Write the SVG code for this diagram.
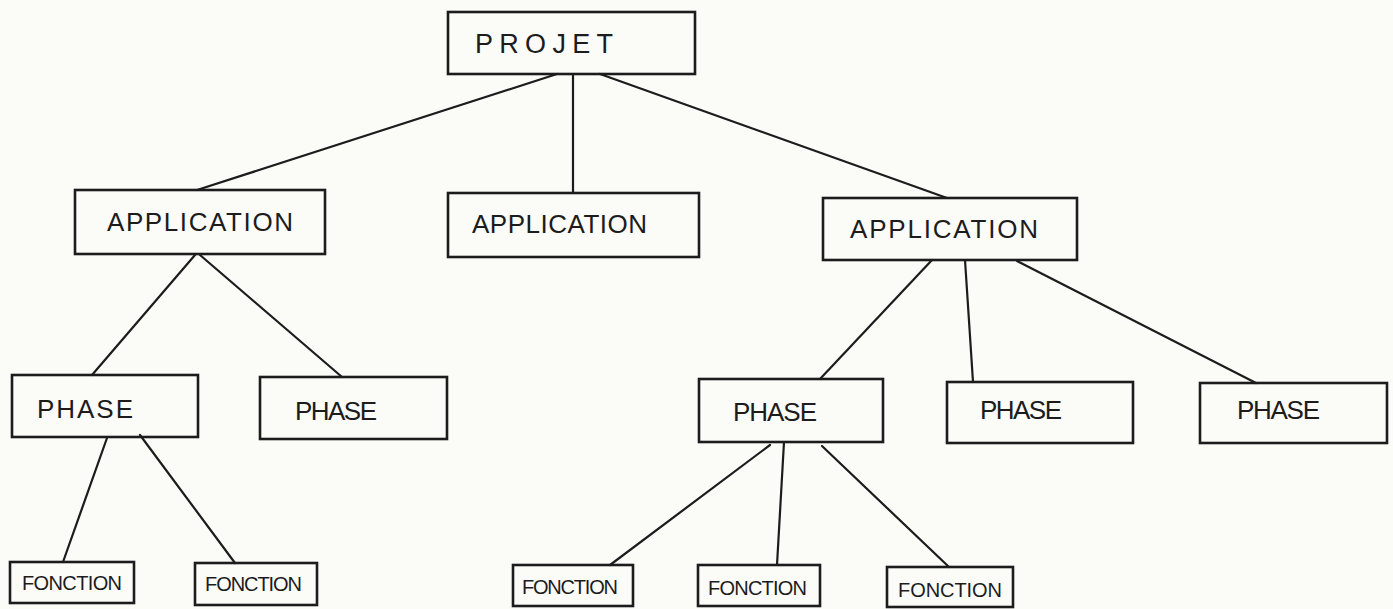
<svg xmlns="http://www.w3.org/2000/svg" width="1393" height="609" viewBox="0 0 1393 609">
<style>
.box{fill:none;stroke:#1c1c1c;stroke-width:2.6}
.lnk{stroke:#1c1c1c;stroke-width:2.2;fill:none;stroke-linecap:round}
.t{font-family:"Liberation Sans",Arial,sans-serif;fill:#1c1c1c}
.big{font-size:27px}
.mid{font-size:26px}
.sml{font-size:20px}
</style>
<rect width="1393" height="609" fill="#fbfbf8"/>
<g id="connectors">
<line class="lnk" x1="557" y1="74" x2="197" y2="190"/>
<line class="lnk" x1="573" y1="74" x2="573" y2="193"/>
<line class="lnk" x1="600" y1="74" x2="947" y2="198"/>
<line class="lnk" x1="195" y1="255" x2="92" y2="375"/>
<line class="lnk" x1="200" y1="255" x2="342" y2="377"/>
<line class="lnk" x1="932" y1="260" x2="820" y2="379"/>
<line class="lnk" x1="965" y1="260" x2="973" y2="382"/>
<line class="lnk" x1="1017" y1="261" x2="1256" y2="383"/>
<line class="lnk" x1="107" y1="438" x2="63" y2="562"/>
<line class="lnk" x1="140" y1="435" x2="235" y2="563"/>
<line class="lnk" x1="770" y1="445" x2="610" y2="565"/>
<line class="lnk" x1="784" y1="442" x2="777" y2="565"/>
<line class="lnk" x1="822" y1="446" x2="949" y2="567"/>
</g>
<g id="projet">
<rect class="box" x="448" y="12" width="247" height="62"/>
<text class="t big" x="475" y="53" textLength="138" lengthAdjust="spacing">PROJET</text>
</g>
<g id="app1">
<rect class="box" x="75" y="190" width="250" height="64"/>
<text class="t mid" x="107" y="231" textLength="186" lengthAdjust="spacing">APPLICATION</text>
</g>
<g id="app2">
<rect class="box" x="448" y="193" width="251" height="64"/>
<text class="t mid" x="472" y="233" textLength="175" lengthAdjust="spacing">APPLICATION</text>
</g>
<g id="app3">
<rect class="box" x="823" y="198" width="254" height="62"/>
<text class="t mid" x="850" y="238" textLength="188" lengthAdjust="spacing">APPLICATION</text>
</g>
<g id="phase1">
<rect class="box" x="12" y="375" width="186" height="62"/>
<text class="t mid" x="37" y="418" textLength="96" lengthAdjust="spacing">PHASE</text>
</g>
<g id="phase2">
<rect class="box" x="260" y="377" width="187" height="62"/>
<text class="t mid" x="295" y="420" textLength="82" lengthAdjust="spacing">PHASE</text>
</g>
<g id="phase3">
<rect class="box" x="699" y="379" width="184" height="63"/>
<text class="t mid" x="733" y="421" textLength="84" lengthAdjust="spacing">PHASE</text>
</g>
<g id="phase4">
<rect class="box" x="947" y="382" width="186" height="61"/>
<text class="t mid" x="980" y="419" textLength="82" lengthAdjust="spacing">PHASE</text>
</g>
<g id="phase5">
<rect class="box" x="1200" y="383" width="187" height="60"/>
<text class="t mid" x="1237" y="419" textLength="83" lengthAdjust="spacing">PHASE</text>
</g>
<g id="fonction1">
<rect class="box" x="10" y="562" width="124" height="41"/>
<text class="t sml" x="22" y="590" textLength="100" lengthAdjust="spacing">FONCTION</text>
</g>
<g id="fonction2">
<rect class="box" x="195" y="563" width="122" height="42"/>
<text class="t sml" x="205" y="591" textLength="97" lengthAdjust="spacing">FONCTION</text>
</g>
<g id="fonction3">
<rect class="box" x="513" y="565" width="120" height="41"/>
<text class="t sml" x="522" y="594" textLength="96" lengthAdjust="spacing">FONCTION</text>
</g>
<g id="fonction4">
<rect class="box" x="698" y="565" width="122" height="41"/>
<text class="t sml" x="708" y="595" textLength="99" lengthAdjust="spacing">FONCTION</text>
</g>
<g id="fonction5">
<rect class="box" x="887" y="567" width="126" height="40"/>
<text class="t sml" x="898" y="597" textLength="104" lengthAdjust="spacing">FONCTION</text>
</g>
</svg>
